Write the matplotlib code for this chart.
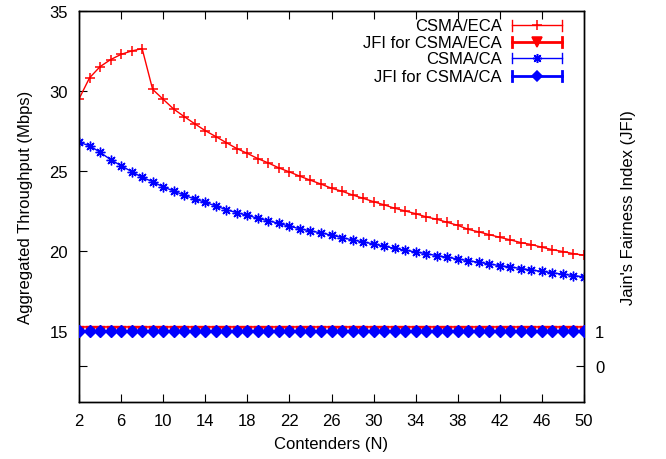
import numpy as np
import matplotlib.pyplot as plt

plt.rcParams['font.family'] = ['Liberation Sans', 'DejaVu Sans']
plt.rcParams['font.size'] = 12

# contenders
n_values = list(range(2, 51))

# aggregated throughput (Mbps)
csma_eca = [29.5, 30.82, 31.52, 31.96, 32.29, 32.5, 32.65, 30.1, 29.48, 28.87,
            28.4, 27.95, 27.52, 27.15, 26.77, 26.4, 26.1, 25.77, 25.5, 25.19,
            24.94, 24.67, 24.42, 24.18, 23.92, 23.73, 23.5, 23.29, 23.08, 22.88,
            22.67, 22.5, 22.33, 22.13, 21.98, 21.79, 21.6, 21.35, 21.19, 21.02,
            20.85, 20.69, 20.52, 20.4, 20.23, 20.08, 19.96, 19.83, 19.73]
csma_ca = [26.79, 26.58, 26.17, 25.71, 25.33, 24.96, 24.6, 24.33, 24.0, 23.75,
           23.48, 23.25, 23.04, 22.81, 22.58, 22.39, 22.23, 22.04, 21.88, 21.73,
           21.54, 21.39, 21.25, 21.13, 20.99, 20.83, 20.69, 20.56, 20.44, 20.29,
           20.17, 20.04, 19.94, 19.83, 19.71, 19.6, 19.5, 19.39, 19.29, 19.19,
           19.08, 19.0, 18.9, 18.81, 18.72, 18.63, 18.55, 18.46, 18.38]

# Jain's fairness index
jfi_eca = [1.0] * len(n_values)
jfi_ca = [1.0] * len(n_values)

x_ticks = list(range(2, 51, 4))
y_ticks = [15, 20, 25, 30, 35]
y2_ticks = [0, 1]

y_top = 35
y_bot = 95 / 9.0   # keeps y=15 level with JFI=1
y2_lo, y2_hi = -1, 10

fig = plt.figure(figsize=(6.66, 4.6), dpi=100)
ax = fig.add_axes([0.1186, 0.1239, 0.7583, 0.85])
ax2 = ax.twinx()

asterisk = (8, 2, 0)
ax.plot(n_values, csma_eca, color='red', lw=1.0, marker='+', ms=7, mew=1.1, zorder=3)
ax.plot(n_values, csma_ca, color='blue', lw=1.0, marker=asterisk, ms=7, mew=1.0, zorder=3)
ax2.plot(n_values, jfi_eca, color='red', lw=2.0, marker='v', ms=7, zorder=3)
ax2.plot(n_values, jfi_ca, color='blue', lw=2.0, marker='D', ms=6.5, zorder=4)

ax.set_xlim(2, 50)
ax.set_ylim(y_bot, y_top)
ax2.set_ylim(y2_lo, y2_hi)

ax.set_xticks(x_ticks)
# left axis also carries a mirrored tick of the y2 "0" level
y_mirror = y_bot + (0 - y2_lo) / (y2_hi - y2_lo) * (y_top - y_bot)
ax.set_yticks(y_ticks + [y_mirror])
ax.set_yticklabels([str(t) for t in y_ticks] + [''])
ax2.set_yticks(y2_ticks)

ax.tick_params(axis='x', direction='in', length=6, top=True, pad=8)
ax.tick_params(axis='y', direction='in', length=6, right=False, pad=8)
ax2.tick_params(axis='y', direction='in', length=6, pad=8)

ax.set_xlabel('Contenders (N)', labelpad=6)
ax.set_ylabel('Aggregated Throughput (Mbps)', labelpad=12)
ax2.set_ylabel("Jain's Fairness Index (JFI)", labelpad=12)

for a in (ax, ax2):
    for s in a.spines.values():
        s.set_linewidth(1.0)

# gnuplot-like key, drawn by hand in axes coordinates
legend_rows = [
    ('CSMA/ECA', 'red', 1.0, '+', 7, 0.037),
    ('JFI for CSMA/ECA', 'red', 2.0, 'v', 7, 0.080),
    ('CSMA/CA', 'blue', 1.0, asterisk, 6.5, 0.121),
    ('JFI for CSMA/CA', 'blue', 2.0, 'D', 5.5, 0.167),
]
x_text, x0, x1, xm = 0.837, 0.858, 0.957, 0.907
for label, col, lw, mk, ms, dy in legend_rows:
    yy = 1 - dy
    ax2.text(x_text, yy, label, transform=ax2.transAxes, ha='right', va='center')
    ax2.plot([x0, x1], [yy, yy], color=col, lw=lw, transform=ax2.transAxes, clip_on=False)
    for xe in (x0, x1):
        ax2.plot([xe, xe], [yy - 0.013, yy + 0.013], color=col, lw=lw,
                 transform=ax2.transAxes, clip_on=False)
    ax2.plot([xm], [yy], color=col, marker=mk, ms=ms, mew=1.1,
             transform=ax2.transAxes, clip_on=False)

fig.savefig('out.png', dpi=100)
